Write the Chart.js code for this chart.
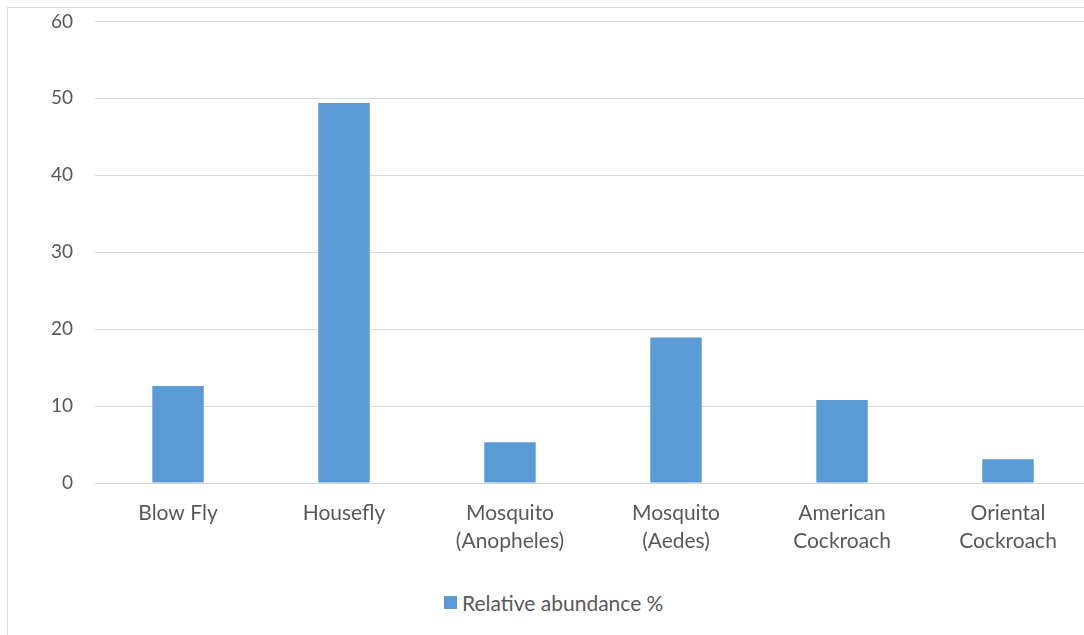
<!DOCTYPE html>
<html>
<head>
<meta charset="utf-8">
<script src="https://cdn.jsdelivr.net/npm/chart.js@4"></script>
<style>
  html, body { margin: 0; padding: 0; background: #fff; overflow: hidden; }
  #frame {
    position: absolute; left: 7px; top: 7px; width: 1120px; height: 660px;
    border: 1px solid #d9d9d9; box-sizing: border-box;
  }
  #wrap { position: absolute; left: 0; top: -20px; width: 1100px; height: 575px; }
  #legend {
    position: absolute; left: 436px; top: 582px; height: 25px;
    font-family: Lato, sans-serif; font-size: 21px; line-height: 25px; color: #595959;
    display: flex; align-items: center;
  }
  #legend span.box { width: 13px; height: 13px; background: #5b9bd5; margin-right: 5px; display: inline-block; }
</style>
</head>
<body>
<div id="frame">
  <div id="wrap"><canvas id="chart"></canvas></div>
  <div id="legend"><span class="box"></span><span id="legendText"></span></div>
</div>
<script>
const categories = [
    'Blow Fly',
    'Housefly',
    ['Mosquito', '(Anopheles)'],
    ['Mosquito', '(Aedes)'],
    ['American', 'Cockroach'],
    ['Oriental', 'Cockroach']
];
const abundance = [12.6, 49.4, 5.3, 18.9, 10.8, 3.1];
const seriesLabel = 'Relative abundance %';

const barColor = '#5b9bd5';
const gridColor = '#d9d9d9';
const textColor = '#595959';

document.getElementById('legendText').textContent = seriesLabel;

const ctx = document.getElementById('chart').getContext('2d');
new Chart(ctx, {
    type: 'bar',
    data: {
        labels: categories,
        datasets: [{
            label: seriesLabel,
            data: abundance,
            backgroundColor: barColor,
            borderWidth: 0,
            barPercentage: 0.31,
            categoryPercentage: 1
        }]
    },
    options: {
        responsive: true,
        maintainAspectRatio: false,
        animation: false,
        layout: { padding: { top: 13, right: 17, bottom: 0, left: 0 } },
        plugins: {
            legend: { display: false },
            tooltip: { enabled: false }
        },
        scales: {
            x: {
                grid: { display: false },
                border: { color: gridColor, width: 1 },
                ticks: {
                    color: textColor,
                    padding: 9,
                    maxRotation: 0,
                    autoSkip: false,
                    font: { family: 'Lato', size: 21, lineHeight: 1.3 }
                },
                afterFit: (scale) => { scale.height = 80; }
            },
            y: {
                min: 0,
                max: 60,
                grid: { color: gridColor, lineWidth: 1, drawTicks: false },
                border: { display: false },
                ticks: {
                    stepSize: 10,
                    color: textColor,
                    padding: 22,
                    font: { family: 'Lato', size: 19 }
                },
                afterFit: (scale) => { scale.width = 87; }
            }
        }
    }
});
</script>
</body>
</html>
